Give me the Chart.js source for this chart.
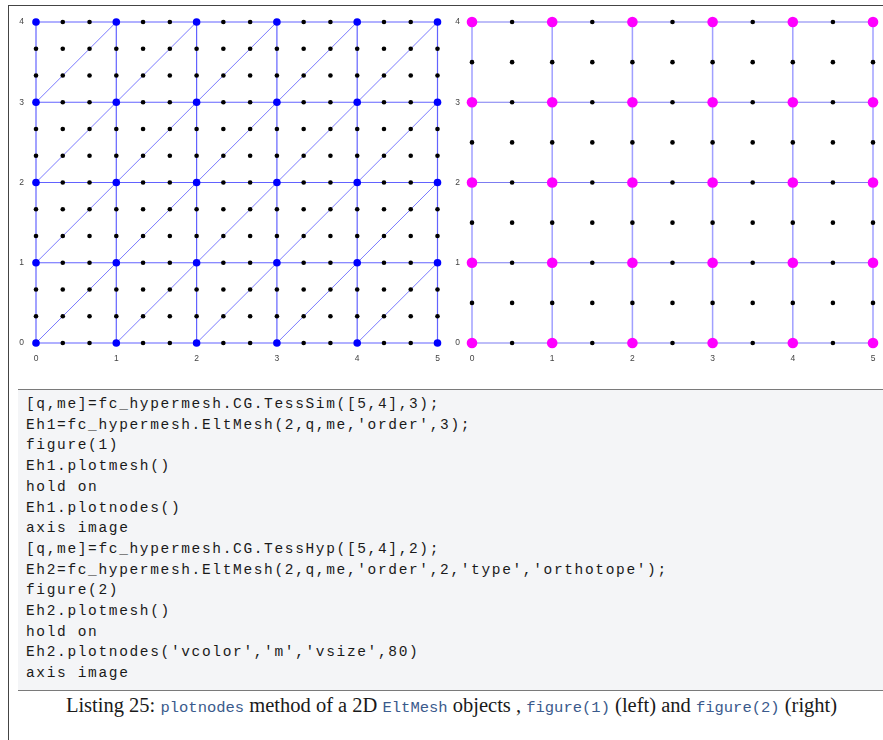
<!DOCTYPE html>
<html>
<head>
<meta charset="utf-8">
<script src="https://cdn.jsdelivr.net/npm/chart.js@4/dist/chart.umd.min.js"></script>
<style>
  html, body { margin: 0; padding: 0; background: #ffffff; }
  #page { position: relative; width: 883px; height: 740px; overflow: hidden; }
  #frame { position: absolute; left: 8px; top: 5px; width: 890px; height: 760px;
           border-left: 1px solid #444; border-top: 1px solid #444; }
  canvas { position: absolute; }
  #cv1 { left: 0px; top: 0px; }
  #cv2 { left: 436px; top: 0px; }
  #listing { position: absolute; left: 18px; top: 389px; width: 870px; height: 300px;
             background: #f4f5f7; border-top: 1.5px solid #7a7a7a; border-bottom: 1.5px solid #7a7a7a; }
  #listing pre { margin: 0; position: absolute; left: 8px; top: 4px;
                 font-family: "Liberation Mono", "DejaVu Sans Mono", monospace; font-size: 14.5px;
                 line-height: 20.7px; letter-spacing: 1.65px; color: #1a1a1a; }
  #caption { position: absolute; left: 0; width: 903px; top: 694px; text-align: center; white-space: nowrap;
             font-family: "Liberation Serif", "DejaVu Serif", serif; font-size: 20.5px; color: #1a1a1a; }
  #caption code { font-family: "Liberation Mono", "DejaVu Sans Mono", monospace; font-size: 15.5px;
                  color: #3a5a8c; }
</style>
</head>
<body>
<div id="page">
  <div id="frame"></div>
  <canvas id="cv1" width="450" height="365"></canvas>
  <canvas id="cv2" width="447" height="365"></canvas>
  <div id="listing"><pre>[q,me]=fc_hypermesh.CG.TessSim([5,4],3);
Eh1=fc_hypermesh.EltMesh(2,q,me,'order',3);
figure(1)
Eh1.plotmesh()
hold on
Eh1.plotnodes()
axis image
[q,me]=fc_hypermesh.CG.TessHyp([5,4],2);
Eh2=fc_hypermesh.EltMesh(2,q,me,'order',2,'type','orthotope');
figure(2)
Eh2.plotmesh()
hold on
Eh2.plotnodes('vcolor','m','vsize',80)
axis image</pre></div>
  <div id="caption">Listing 25: <code>plotnodes</code> method of a 2D <code>EltMesh</code> objects , <code>figure(1)</code> (left) and <code>figure(2)</code> (right)</div>
</div>
<script>
// Mesh vertices (element corners) of the 5x4 tessellation
const vertexX = [0, 1, 2, 3, 4, 5];
const vertexY = [0, 1, 2, 3, 4];

// Node coordinates along each axis: order-3 simplices (left), order-2 orthotopes (right)
const p3NodeX = [0, 1/3, 2/3, 1, 4/3, 5/3, 2, 7/3, 8/3, 3, 10/3, 11/3, 4, 13/3, 14/3, 5];
const p3NodeY = [0, 1/3, 2/3, 1, 4/3, 5/3, 2, 7/3, 8/3, 3, 10/3, 11/3, 4];
const q2NodeX = [0, 0.5, 1, 1.5, 2, 2.5, 3, 3.5, 4, 4.5, 5];
const q2NodeY = [0, 0.5, 1, 1.5, 2, 2.5, 3, 3.5, 4];

// Tick labels on both axes
const xTicks = [0, 1, 2, 3, 4, 5];
const yTicks = [0, 1, 2, 3, 4];

const xFirst = vertexX[0], xLast = vertexX[vertexX.length - 1];
const yFirst = vertexY[0], yLast = vertexY[vertexY.length - 1];

// each mesh edge line is a two-point dataset
function horizontalEdges() {
  return vertexY.map(y => [{ x: xFirst, y }, { x: xLast, y }]);
}
function verticalEdges() {
  return vertexX.map(x => [{ x, y: yFirst }, { x, y: yLast }]);
}
// diagonals of the split squares, joined into full lines of slope 1
function diagonalEdges() {
  const lines = [];
  const starts = [];
  vertexY.slice(1, -1).reverse().forEach(y => starts.push({ x: xFirst, y }));
  vertexX.slice(0, -1).forEach(x => starts.push({ x, y: yFirst }));
  starts.forEach(s => {
    const run = Math.min(xLast - s.x, yLast - s.y);
    lines.push([{ x: s.x, y: s.y }, { x: s.x + run, y: s.y + run }]);
  });
  return lines;
}
function isVertex(x, y) {
  return vertexX.some(v => Math.abs(v - x) < 1e-9) && vertexY.some(v => Math.abs(v - y) < 1e-9);
}
function nodes(xs, ys, wantVertices) {
  const d = [];
  xs.forEach(x => ys.forEach(y => { if (isVertex(x, y) === wantVertices) d.push({ x, y }); }));
  return d;
}

function lineSets(lines, color, width) {
  return lines.map(data => ({ type: 'scatter', data, showLine: true, borderColor: color,
           backgroundColor: color, borderWidth: width, pointRadius: 0, pointHoverRadius: 0, order: 5 }));
}
function pointSet(data, color, radius, order) {
  return { type: 'scatter', data, showLine: false, backgroundColor: color, borderColor: color,
           borderWidth: 0, pointRadius: radius, pointHoverRadius: radius, order };
}

function makeOptions(rightPad) {
  return {
    responsive: false, animation: false, devicePixelRatio: 1, clip: false, events: [],
    layout: { padding: { top: 22, right: rightPad, bottom: 0, left: 0 } },
    plugins: { legend: { display: false }, tooltip: { enabled: false } },
    scales: {
      x: {
        type: 'linear', min: 0, max: 5,
        grid: { display: false }, border: { display: false },
        afterBuildTicks: s => { s.ticks = xTicks.map(v => ({ value: v })); },
        afterFit: s => { s.height = 22; },
        ticks: { padding: 3, color: '#444', font: { family: 'Liberation Sans', size: 8.5 } }
      },
      y: {
        type: 'linear', min: 0, max: 4,
        grid: { display: false }, border: { display: false },
        afterBuildTicks: s => { s.ticks = yTicks.map(v => ({ value: v })); },
        afterFit: s => { s.width = 36; },
        ticks: { padding: 4, color: '#444', font: { family: 'Liberation Sans', size: 8.5 } }
      }
    }
  };
}

// Figure 1: order-3 triangle mesh
new Chart(document.getElementById('cv1'), {
  type: 'scatter',
  data: { datasets: [
    ...lineSets(horizontalEdges(), 'rgba(70,70,255,0.85)', 1.2),
    ...lineSets(verticalEdges(), 'rgba(70,70,255,0.85)', 1.2),
    ...lineSets(diagonalEdges(), 'rgba(80,80,255,0.85)', 0.9),
    pointSet(nodes(p3NodeX, p3NodeY, false), '#000000', 2.3, 1),
    pointSet(nodes(p3NodeX, p3NodeY, true), '#0000ff', 3.8, 0)
  ] },
  options: makeOptions(12.5)
});

// Figure 2: order-2 quadrangle mesh
new Chart(document.getElementById('cv2'), {
  type: 'scatter',
  data: { datasets: [
    ...lineSets(verticalEdges(), 'rgba(150,150,255,0.9)', 1.5),
    ...lineSets(horizontalEdges(), 'rgba(110,110,240,0.9)', 1.2),
    pointSet(nodes(q2NodeX, q2NodeY, false), '#000000', 2.3, 1),
    pointSet(nodes(q2NodeX, q2NodeY, true), '#ff00ff', 5.3, 0)
  ] },
  options: makeOptions(10)
});
</script>
</body>
</html>
